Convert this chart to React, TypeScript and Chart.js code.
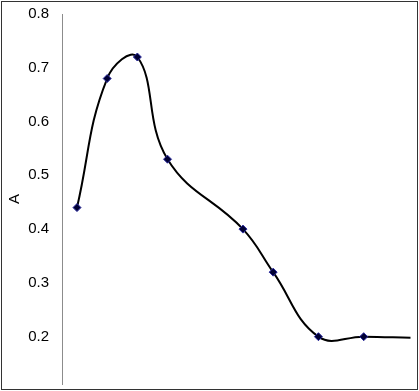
import React, { useEffect, useRef } from "react";
import { Chart, registerables } from "chart.js";

Chart.register(...registerables);

const wavelengths = [400, 420, 440, 460, 510, 530, 560, 590, 621];
const absorbance = [0.44, 0.68, 0.72, 0.53, 0.4, 0.32, 0.2, 0.2, 0.198];
const markerRadius = [4, 4, 4, 4, 4, 4, 4, 4, 0];
const yTicks = [0.2, 0.3, 0.4, 0.5, 0.6, 0.7, 0.8];
const yTitle = "A";

export default function App() {
  const ref = useRef<HTMLCanvasElement | null>(null);

  useEffect(() => {
    const prevMargin = document.body.style.margin;
    document.body.style.margin = "0";
    const ctx = ref.current!;
    const chart = new Chart(ctx, {
      type: "scatter",
      data: {
        datasets: [
          {
            data: wavelengths.map((x, i) => ({ x, y: absorbance[i] })),
            showLine: true,
            borderColor: "#000000",
            borderWidth: 2,
            tension: 0.42,
            pointStyle: "rectRot",
            pointRadius: markerRadius,
            pointBackgroundColor: "#000033",
            pointBorderColor: "#2a2aa0",
            pointBorderWidth: 1,
          },
        ],
      },
      options: {
        animation: false,
        responsive: false,
        events: [],
        layout: { padding: { top: 14, bottom: 7, right: 7, left: 0 } },
        plugins: { legend: { display: false }, tooltip: { enabled: false } },
        scales: {
          x: {
            type: "linear",
            display: false,
            min: 390.07,
            max: 622,
          },
          y: {
            type: "linear",
            min: 0.112,
            max: 0.8,
            afterFit: (s: any) => {
              s.width = 62;
              s.paddingTop = 0;
              s.paddingBottom = 0;
            },
            afterBuildTicks: (s: any) => {
              s.ticks = yTicks.map((v) => ({ value: v }));
            },
            grid: { display: false, drawTicks: false },
            border: { display: true, color: "#8c8c8c", width: 1 },
            ticks: {
              padding: 13,
              color: "#000000",
              font: { family: "'Liberation Sans', Arial, sans-serif", size: 15 },
              callback: (v: any) => Number(v).toFixed(1),
            },
            title: {
              display: true,
              text: yTitle,
              color: "#000000",
              padding: { top: 6, bottom: 0 },
              font: { family: "'Liberation Sans', Arial, sans-serif", size: 15 },
            },
          },
        },
      },
    });
    return () => {
      chart.destroy();
      document.body.style.margin = prevMargin;
    };
  }, []);

  return (
    <div style={{ position: "fixed", left: 0, top: 0, width: 419, height: 391, background: "#fff" }}>
      <canvas ref={ref} width={419} height={391} style={{ position: "absolute", left: 0, top: 0 }} />
      <div
        style={{
          position: "absolute",
          left: 1,
          top: 1,
          width: 417,
          height: 389,
          boxSizing: "border-box",
          border: "1px solid #333333",
          pointerEvents: "none",
        }}
      />
    </div>
  );
}
